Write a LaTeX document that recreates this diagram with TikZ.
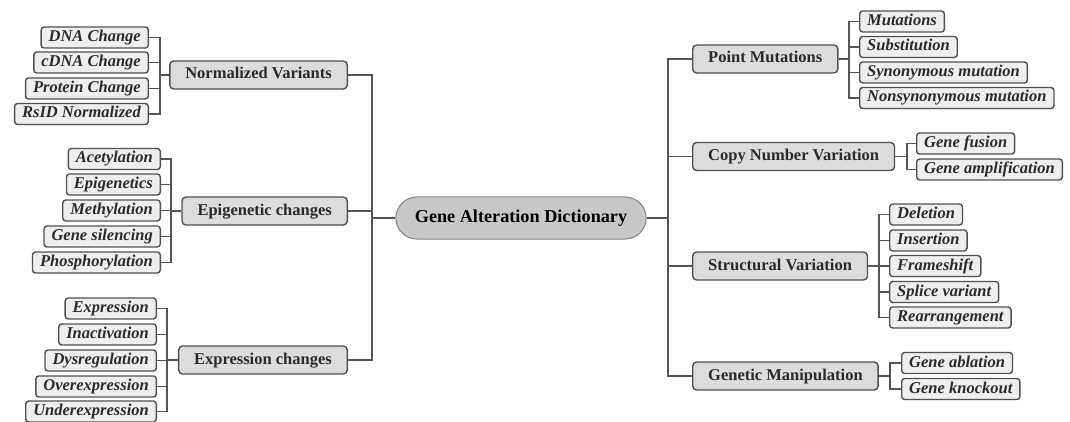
\documentclass[tikz,border=0pt]{standalone}
\usepackage{fontspec}
\setmainfont{Liberation Serif}
\definecolor{boxline}{HTML}{505050}
\definecolor{linkgray}{HTML}{555555}
\definecolor{leafgray}{HTML}{EEEEEE}
\definecolor{catgray}{HTML}{DCDCDC}
\definecolor{rootgray}{HTML}{C8C8C8}
\definecolor{darktext}{HTML}{2B2B2B}
\begin{document}
\begin{tikzpicture}[x=1pt,y=-1pt,
    leaf/.style={draw=boxline,fill=leafgray,text=darktext,line width=1.4pt,rounded corners=3pt,
        font=\fontsize{16.5}{18}\selectfont\bfseries\itshape,inner xsep=7.5pt,inner ysep=0pt,
        minimum height=21pt,text height=12pt,text depth=4pt},
    cat/.style={draw=boxline,fill=catgray,text=darktext,line width=1.4pt,rounded corners=4pt,
        font=\fontsize{16.5}{18}\selectfont\bfseries,inner xsep=15.5pt,inner ysep=0pt,
        minimum height=28pt,text height=12pt,text depth=4pt},
    link/.style={draw=linkgray,line width=1.4pt}]
    \useasboundingbox (0,0) rectangle (1070,422);

    % root
    \node[draw=boxline!70,fill=rootgray,line width=1pt,rounded corners=21pt,minimum height=42pt,
        inner xsep=19pt,font=\fontsize{18.2}{20}\selectfont\bfseries,text=black] (root) at (521,218) {Gene Alteration Dictionary};

    % left categories
    \node[cat,anchor=east] (nv) at (348,75) {Normalized Variants};
    \node[cat,anchor=east] (epi) at (348,211) {Epigenetic changes};
    \node[cat,anchor=east] (expr) at (348,360) {Expression changes};

    % right categories
    \node[cat,anchor=west] (pm) at (692,59) {Point Mutations};
    \node[cat,anchor=west] (cnv) at (692,156.5) {Copy Number Variation};
    \node[cat,anchor=west] (sv) at (692,266) {Structural Variation};
    \node[cat,anchor=west] (gm) at (692,376) {Genetic Manipulation};

    % left leaves
    \node[leaf,anchor=east] (dna) at (149,37.5) {DNA Change};
    \node[leaf,anchor=east] (cdna) at (149,62.5) {cDNA Change};
    \node[leaf,anchor=east] (prot) at (149,88.5) {Protein Change};
    \node[leaf,anchor=east] (rsid) at (149,114) {RsID Normalized};

    \node[leaf,anchor=east] (acet) at (161,159) {Acetylation};
    \node[leaf,anchor=east] (epig) at (161,184.5) {Epigenetics};
    \node[leaf,anchor=east] (meth) at (161,210.5) {Methylation};
    \node[leaf,anchor=east] (sil) at (161,236.5) {Gene silencing};
    \node[leaf,anchor=east] (phos) at (161,262.5) {Phosphorylation};

    \node[leaf,anchor=east] (exp) at (157,308.5) {Expression};
    \node[leaf,anchor=east] (inact) at (157,334.5) {Inactivation};
    \node[leaf,anchor=east] (dysr) at (157,360.5) {Dysregulation};
    \node[leaf,anchor=east] (over) at (157,386.5) {Overexpression};
    \node[leaf,anchor=east] (under) at (157,411.5) {Underexpression};

    % right leaves
    \node[leaf,anchor=west] (mut) at (859,21.5) {Mutations};
    \node[leaf,anchor=west] (subst) at (859,47) {Substitution};
    \node[leaf,anchor=west] (syn) at (859,72.5) {Synonymous mutation};
    \node[leaf,anchor=west] (nonsyn) at (859,98) {Nonsynonymous mutation};

    \node[leaf,anchor=west] (fus) at (916,143.5) {Gene fusion};
    \node[leaf,anchor=west] (ampl) at (916,169.5) {Gene amplification};

    \node[leaf,anchor=west] (del) at (889,214.5) {Deletion};
    \node[leaf,anchor=west] (ins) at (889,240.5) {Insertion};
    \node[leaf,anchor=west] (fshift) at (889,266) {Frameshift};
    \node[leaf,anchor=west] (splice) at (889,292) {Splice variant};
    \node[leaf,anchor=west] (rearr) at (889,317.5) {Rearrangement};

    \node[leaf,anchor=west] (abl) at (901,363) {Gene ablation};
    \node[leaf,anchor=west] (ko) at (901,389) {Gene knockout};

    % trunks
    \foreach \c in {nv,epi,expr}
        \draw[link] (\c.east) -- ++(24,0) |- (root.west);
    \foreach \c in {pm,cnv,sv,gm}
        \draw[link] (\c.west) -- ++(-24,0) |- (root.east);

    % brackets
    \foreach \l in {dna,cdna,prot,rsid}
        \draw[link] (\l.east) -- ++(11,0) |- (nv.west);
    \foreach \l in {acet,epig,meth,sil,phos}
        \draw[link] (\l.east) -- ++(10,0) |- (epi.west);
    \foreach \l in {exp,inact,dysr,over,under}
        \draw[link] (\l.east) -- ++(10,0) |- (expr.west);
    \foreach \l in {mut,subst,syn,nonsyn}
        \draw[link] (\l.west) -- ++(-10,0) |- (pm.east);
    \foreach \l in {fus,ampl}
        \draw[link] (\l.west) -- ++(-9,0) |- (cnv.east);
    \foreach \l in {del,ins,fshift,splice,rearr}
        \draw[link] (\l.west) -- ++(-10,0) |- (sv.east);
    \foreach \l in {abl,ko}
        \draw[link] (\l.west) -- ++(-11,0) |- (gm.east);
\end{tikzpicture}
\end{document}
